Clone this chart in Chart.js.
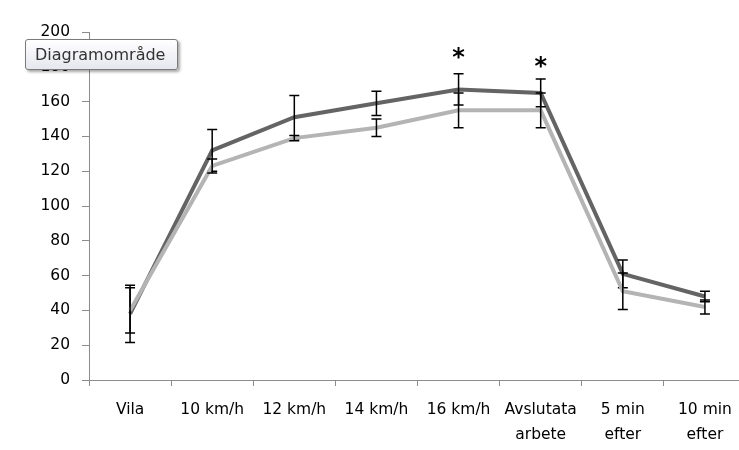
<!DOCTYPE html>
<html lang="sv">
<head>
<meta charset="utf-8">
<title>Puls</title>
<script src="https://cdn.jsdelivr.net/npm/chart.js@4.4.1/dist/chart.umd.min.js"></script>
<style>
  body { margin: 0; background: #fff; }
  .wrap { position: relative; width: 739px; height: 450px; overflow: hidden; }
  #chart { position: absolute; left: 0; top: 0; }
  .tip {
    position: absolute; left: 25px; top: 39px; width: 142px; height: 29px;
    border: 1px solid #7a7a7a; border-radius: 3px;
    background: linear-gradient(#ffffff, #e6e7ef);
    box-shadow: 2px 2px 3px rgba(0, 0, 0, 0.35);
    font: 16px "DejaVu Sans", sans-serif; color: #333;
    line-height: 29px; padding-left: 9px; box-sizing: content-box;
  }
</style>
</head>
<body>
<div class="wrap">
  <canvas id="chart" width="750" height="450"></canvas>
  <div class="tip">Diagramområde</div>
</div>
<script>
// Kategorier och mätvärden
const labels = ["Vila", "10 km/h", "12 km/h", "14 km/h", "16 km/h", ["Avslutata", "arbete"], ["5 min", "efter"], ["10 min", "efter"]];
const darkValues = [38, 132, 151, 159, 167, 165, 61, 48];
const darkErrors = [16.5, 12, 12.5, 7, 9, 8, 8, 3];
const lightValues = [40, 123, 139, 145, 155, 155, 51, 42];
const lightErrors = [13, 4, 1.5, 5, 10, 10, 10.5, 4];
// Signifikansmarkeringar
const sigMarks = ["", "", "", "", "*", "*", "", ""];
const sigLevels = [null, null, null, null, 188, 182.5, null, null];

const axisColor = "#8c8c8c";
const tickFont = { family: "DejaVu Sans", size: 15.5, lineHeight: 1.6 };

// Ritar felstaplar för varje serie direkt efter serien
const errorBars = {
  id: "errorBars",
  afterDatasetDraw(chart, args) {
    const ds = chart.data.datasets[args.index];
    if (!ds.errors) return;
    const ctx = chart.ctx;
    const yScale = chart.scales.y;
    ctx.save();
    ctx.strokeStyle = "#000";
    ctx.lineWidth = 1.5;
    args.meta.data.forEach((pt, i) => {
      const v = ds.data[i];
      const e = ds.errors[i];
      const top = yScale.getPixelForValue(v + e);
      const bottom = yScale.getPixelForValue(v - e);
      ctx.beginPath();
      ctx.moveTo(pt.x, top);
      ctx.lineTo(pt.x, bottom);
      ctx.moveTo(pt.x - 5, top);
      ctx.lineTo(pt.x + 5, top);
      ctx.moveTo(pt.x - 5, bottom);
      ctx.lineTo(pt.x + 5, bottom);
      ctx.stroke();
    });
    ctx.restore();
  },
  afterDraw(chart) {
    const ctx = chart.ctx;
    ctx.save();
    ctx.fillStyle = "#000";
    ctx.font = "bold 24px 'DejaVu Sans'";
    ctx.textAlign = "center";
    ctx.textBaseline = "alphabetic";
    sigMarks.forEach((mark, i) => {
      if (!mark) return;
      const m = ctx.measureText(mark);
      const x = chart.scales.x.getPixelForValue(i);
      const y = chart.scales.y.getPixelForValue(sigLevels[i]);
      ctx.fillText(mark, x, y + (m.actualBoundingBoxAscent - m.actualBoundingBoxDescent) / 2);
    });
    ctx.restore();
  },
};

new Chart(document.getElementById("chart"), {
  type: "line",
  data: {
    labels,
    datasets: [
      {
        data: darkValues,
        errors: darkErrors,
        borderColor: "#646464",
        borderWidth: 4,
        pointRadius: 0,
        tension: 0,
        order: 1,
      },
      {
        data: lightValues,
        errors: lightErrors,
        borderColor: "#b4b4b4",
        borderWidth: 4,
        pointRadius: 0,
        tension: 0,
        order: 0,
      },
    ],
  },
  options: {
    responsive: false,
    animation: false,
    layout: { padding: { top: 32, right: 4, left: 0, bottom: 0 } },
    plugins: { legend: { display: false }, tooltip: { enabled: false } },
    scales: {
      x: {
        offset: true,
        grid: { offset: true, drawOnChartArea: false, tickLength: 6, color: axisColor },
        border: { color: axisColor },
        ticks: { font: tickFont, color: "#000", padding: 12, maxRotation: 0, autoSkip: false },
        afterFit: (scale) => { scale.height = 70; },
      },
      y: {
        min: 0,
        max: 200,
        grid: { drawOnChartArea: false, tickLength: 7, color: axisColor },
        border: { color: axisColor },
        ticks: { stepSize: 20, font: tickFont, color: "#000", padding: 12 },
        afterFit: (scale) => { scale.width = 89; },
      },
    },
  },
  plugins: [errorBars],
});
</script>
</body>
</html>
